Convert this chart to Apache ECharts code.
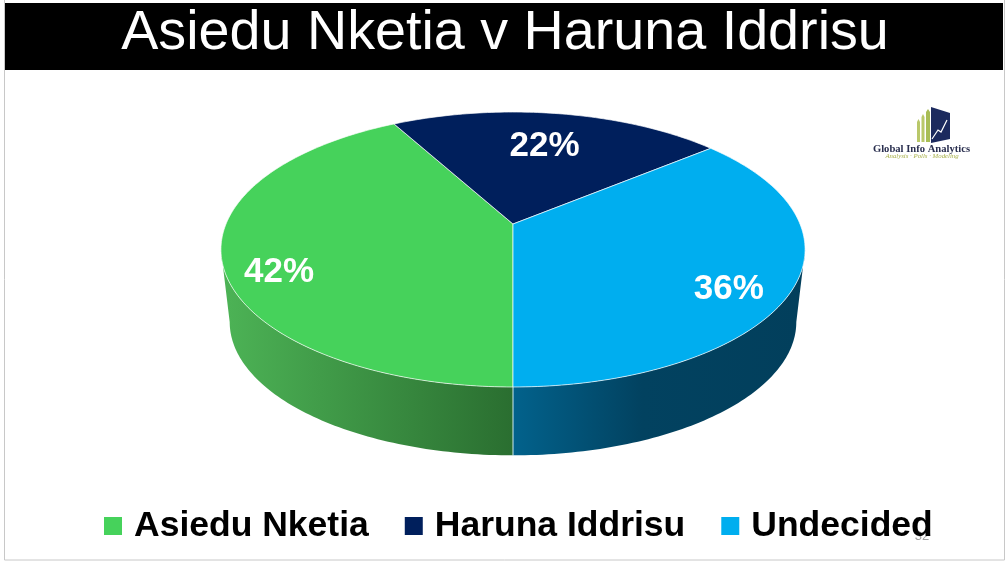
<!DOCTYPE html>
<html><head><meta charset="utf-8">
<style>html,body{margin:0;padding:0;background:#fff}#c{width:1007px;height:562px}</style>
<script src="https://cdn.jsdelivr.net/npm/echarts@6/dist/echarts.min.js"></script>
</head><body><div id="c"></div>
<script>
const titleText = 'Asiedu Nketia v Haruna Iddrisu';
const categories = ['Asiedu Nketia', 'Haruna Iddrisu', 'Undecided'];
const shares = [42, 22, 36];
const colors = ['#46d25b', '#001f5c', '#00aeef'];

// View of the tilted disc (perspective projection of a unit circle)
const view = {cx:513, cy:224, k:287, b:-91.2, c:0.1855, startDeg:180, lowerS:0.97, ellipseMidY:249.5, lowerMidY:322};
const labelNudge = [[-3,21],[-6,13],[-6,17]];
const sideFill = [
  [[0,'#4cb255'],[1,'#2a6e30']],
  [[0,'#001f5c'],[1,'#001f5c']],
  [[0,'#02628c'],[0.45,'#024260'],[1,'#023f5c']]
];
const sideSpan = [[228,513],[397,711],[513,800]];

const total = shares.reduce((a,b)=>a+b,0);
const tangent = Math.acos(-view.c)*180/Math.PI;
const visible = [tangent, 360-tangent];
function rim(deg, r){
  r = r === undefined ? 1 : r;
  const t = deg*Math.PI/180, u = r*Math.sin(t), v = r*Math.cos(t), d = 1+view.c*v;
  return [view.cx + view.k*u/d, (view.cy + view.b*v)/d];
}
function low(p){
  return [view.cx + view.lowerS*(p[0]-view.cx), view.lowerMidY + view.lowerS*(p[1]-view.ellipseMidY)];
}
function arc(a,b){
  const pts=[]; const n=Math.max(2,Math.ceil(Math.abs(b-a)));
  for(let i=0;i<=n;i++) pts.push(rim(a+(b-a)*i/n));
  return pts;
}
function makeRender(idx){
  const before = shares.slice(0,idx).reduce((a,b)=>a+b,0);
  return function(params, api){
    const a = view.startDeg + 360*before/total;
    const b = a + 360*api.value(0)/total;
    const top = arc(a,b);
    const mid = rim((a+b)/2, 0.8);
    const kids = [
      {type:'polygon', z2:10, shape:{points:[[view.cx,view.cy]].concat(top)},
       style:{fill:colors[idx], stroke:'#ffffff', lineWidth:0.8, strokeOpacity:0.85}},
      {type:'text', z2:20, x:mid[0]+labelNudge[idx][0], y:mid[1]+labelNudge[idx][1],
       style:{text:api.value(0)+'%', fill:'#fff', font:'bold 35px "Liberation Sans"', align:'center', verticalAlign:'middle'}}
    ];
    // side wall: only the part of the rim that faces the viewer
    const norm = d => ((d%360)+360)%360;
    const na = norm(a), nb = na + (b-a);
    const sa = Math.max(na, visible[0]), sb = Math.min(nb, visible[1]);
    if(sb > sa){
      const wall = arc(sa,sb);
      kids.push({type:'polygon', z2:1, shape:{points:wall.concat(wall.map(low).reverse())},
        style:{fill:new echarts.graphic.LinearGradient(sideSpan[idx][0],0,sideSpan[idx][1],0,
          sideFill[idx].map(s=>({offset:s[0],color:s[1]})),true)}});
    }
    if(idx===0){
      kids.push({type:'line', z2:9, shape:{x1:view.cx,y1:387,x2:view.cx,y2:456},
        style:{stroke:'#cfe9ef', lineWidth:1}});
    }
    return {type:'group', children:kids};
  };
}
const chart = echarts.init(document.getElementById('c'));
chart.setOption({
  animation:false,
  backgroundColor:'#ffffff',
  title:{text:titleText, left:500, top:29, textAlign:'center', textVerticalAlign:'middle', z:20,
    textStyle:{color:'#fff', fontFamily:'"Liberation Sans"', fontWeight:'normal', fontSize:55.7}},
  legend:{left:104, top:508, padding:0, itemWidth:18, itemHeight:18, itemGap:36, icon:'rect', selectedMode:false,
    data:categories, textStyle:{color:'#000', fontFamily:'"Liberation Sans"', fontWeight:'bold', fontSize:35.5, padding:[0,0,0,7]}},
  graphic:[
    {type:'rect', z:-1, shape:{x:4.5,y:-2,width:1000,height:562}, style:{fill:'#fff',stroke:'#c8c8c8',lineWidth:1}},
    {type:'rect', z:1, shape:{x:5,y:3,width:998,height:67}, style:{fill:'#000'}},
    // logo
    {type:'polygon', z:2, shape:{points:[[931,107],[950,113],[950,139],[931,143]]}, style:{fill:'#1c2a5e'}},
    {type:'polyline', z:3, shape:{points:[[932,139],[938,130],[941,132],[947,120]]}, style:{stroke:'#fff',lineWidth:1.2,fill:null}},
    {type:'polygon', z:2, shape:{points:[[917,142],[917,122],[918.5,119],[920,122],[920,142]]}, style:{fill:'#b9c86a'}},
    {type:'polygon', z:2, shape:{points:[[921.5,142],[921.5,117],[923,114],[924.5,117],[924.5,142]]}, style:{fill:'#b9c86a'}},
    {type:'polygon', z:2, shape:{points:[[926,142],[926,112],[928,109],[930,112],[930,142]]}, style:{fill:'#a8bd55'}},
    {type:'text', z:2, x:921.5, y:149, style:{text:'Global Info Analytics', fill:'#2a2f4f', font:'bold 10.6px "Liberation Serif"', align:'center', verticalAlign:'middle'}},
    {type:'text', z:2, x:922, y:156.5, style:{text:'Analysis · Polls · Modeling', fill:'#a8b04a', font:'italic 6.8px "Liberation Serif"', align:'center', verticalAlign:'middle'}},
    {type:'text', z:1, x:922, y:536, style:{text:'32', fill:'#a0a0a0', font:'13px "Liberation Sans"', align:'center', verticalAlign:'middle'}}
  ],
  series: categories.map((name,i)=>({
    type:'custom', name, coordinateSystem:'none', itemStyle:{color:colors[i]},
    renderItem:makeRender(i), data:[[shares[i]]], silent:true
  }))
});
</script></body></html>
